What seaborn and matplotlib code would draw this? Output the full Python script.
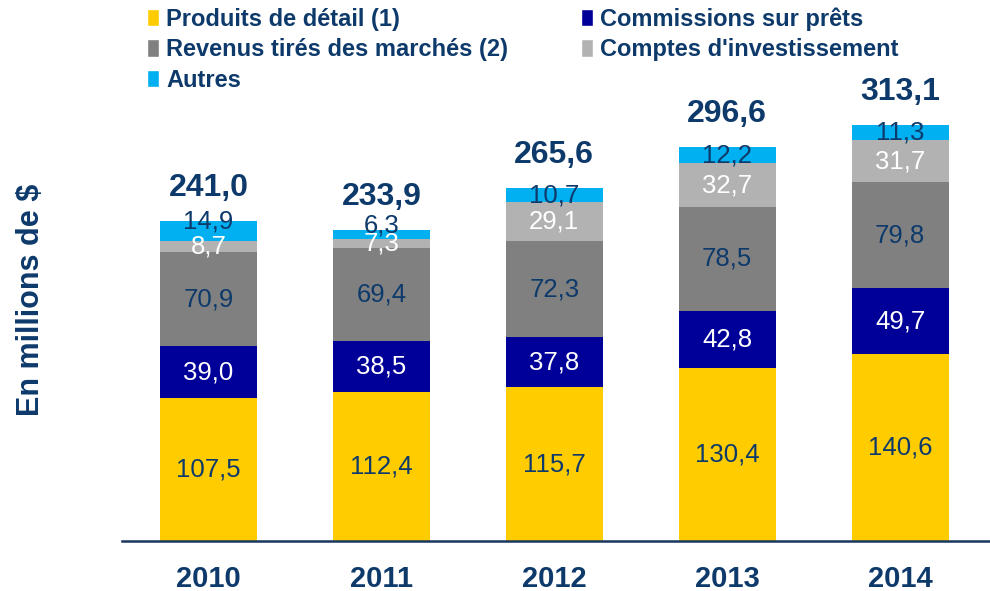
import pandas as pd
import numpy as np
import matplotlib
matplotlib.use('Agg')
import matplotlib.pyplot as plt
import seaborn as sns
from matplotlib.patches import Patch

years = ['2010', '2011', '2012', '2013', '2014']
produits = [107.5, 112.4, 115.7, 130.4, 140.6]
commissions = [39.0, 38.5, 37.8, 42.8, 49.7]
revenus = [70.9, 69.4, 72.3, 78.5, 79.8]
comptes = [8.7, 7.3, 29.1, 32.7, 31.7]
autres = [14.9, 6.3, 10.7, 12.2, 11.3]
totals = ['241,0', '233,9', '265,6', '296,6', '313,1']

series_names = ['Produits de détail (1)', 'Commissions sur prêts',
                'Revenus tirés des marchés (2)', "Comptes d'investissement", 'Autres']
colors = ['#FFCC00', '#000099', '#808080', '#B2B2B2', '#00B0F0']
label_colors = ['#0D3A6B', 'white', '#0D3A6B', 'white', '#0D3A6B']
dark = '#0D3A6B'

sns.set_style('white')
plt.rcParams['font.family'] = ['Liberation Sans', 'DejaVu Sans']

df = pd.DataFrame({'year': years, 'p': produits, 'c': commissions,
                   'r': revenus, 'ci': comptes, 'a': autres})
cols = ['p', 'c', 'r', 'ci', 'a']
cum = df[cols].cumsum(axis=1)

fig = plt.figure(figsize=(9.9, 5.91), dpi=100)
ax = fig.add_axes([0.1232, 0.0846, 0.8768, 0.809])

# stacked bars: draw cumulative heights from top segment down
for i in reversed(range(len(cols))):
    sns.barplot(x=df['year'], y=cum[cols[i]], color=colors[i], saturation=1,
                width=0.56, order=years, linewidth=0, ax=ax)

# segment labels
for j in range(len(years)):
    for i, c in enumerate(cols):
        val = df[c][j]
        bottom = cum[c][j] - val
        y = bottom + val / 2
        if c == 'a' and df['ci'][j] < 10:
            y += 7
        ax.text(j, y, f'{val:.1f}'.replace('.', ','), ha='center', va='center',
                fontsize=18.5, color=label_colors[i])
    ax.text(j, cum['a'][j] + 19, totals[j], ha='center', va='baseline',
            fontsize=23, fontweight='bold', color=dark)

ax.set_xlim(-0.5, 4.52)
ax.set_ylim(0, 360)
ax.set_xlabel('')
ax.set_ylabel('')
ax.set_yticks([])
for s in ['top', 'right', 'left']:
    ax.spines[s].set_visible(False)
ax.spines['bottom'].set_color('#17375E')
ax.spines['bottom'].set_linewidth(1.8)
ax.tick_params(axis='x', length=0, pad=17, labelsize=21, labelcolor=dark)
for t in ax.get_xticklabels():
    t.set_fontweight('bold')

fig.text(0.031, 0.492, 'En millions de $', rotation=90, ha='center', va='center',
         fontsize=22, fontweight='bold', color=dark)

handles = [Patch(facecolor=colors[i], label=series_names[i]) for i in range(5)]
order = [0, 2, 4, 1, 3]
leg = fig.legend([handles[k] for k in order], [series_names[k] for k in order],
                 ncol=2, loc='upper left', bbox_to_anchor=(0.139, 1.004), frameon=False,
                 prop={'size': 17, 'weight': 'bold'}, handlelength=0.5, handleheight=0.75,
                 handletextpad=0.3, labelspacing=0.32, columnspacing=3.1, borderaxespad=0)
for t in leg.get_texts():
    t.set_color(dark)

fig.savefig('out.png', dpi=100)
